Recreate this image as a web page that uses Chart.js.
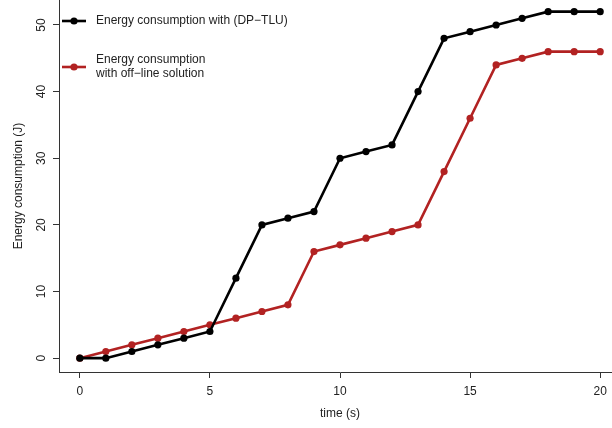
<!DOCTYPE html>
<html>
<head>
<meta charset="utf-8">
<script src="https://cdn.jsdelivr.net/npm/chart.js@4"></script>
<style>
  html, body { margin: 0; padding: 0; background: #fff; overflow: hidden; }
  #wrap { width: 621px; height: 428px; }
</style>
</head>
<body>
<div id="wrap"><canvas id="c" width="621" height="428" style="width:621px;height:428px"></canvas></div>
<script>
const timeValues = [0,1,2,3,4,5,6,7,8,9,10,11,12,13,14,15,16,17,18,19,20];
const dptluEnergy = [0,0,1,2,3,4,12,20,21,22,30,31,32,40,48,49,50,51,52,52,52];
const offlineEnergy = [0,1,2,3,4,5,6,7,8,16,17,18,19,20,28,36,44,45,46,46,46];
const xTickValues = [0,5,10,15,20];
const yTickValues = [0,10,20,30,40,50];
const seriesNames = [["Energy consumption with (DP\u2212TLU)"], ["Energy consumption", "with off\u2212line solution"]];
const seriesColors = ["#000000", "#B22222"];

const FONT = "'Liberation Sans', Arial, Helvetica, sans-serif";
const AXIS_COLOR = "#333333";
const TEXT_COLOR = "#222222";

function pts(ys) { return timeValues.map((x, i) => ({x: x, y: ys[i]})); }

const legendPlugin = {
  id: 'rLegend',
  afterDraw(chart) {
    const ctx = chart.ctx;
    ctx.save();
    ctx.font = "12px " + FONT;
    ctx.textBaseline = 'middle';
    ctx.textAlign = 'left';
    const entries = [{y: 21, lines: seriesNames[0], color: seriesColors[0]},
                     {y: 67, lines: seriesNames[1], color: seriesColors[1]}];
    entries.forEach(e => {
      ctx.strokeStyle = e.color;
      ctx.lineWidth = 2.6;
      ctx.beginPath();
      ctx.moveTo(62, e.y);
      ctx.lineTo(86, e.y);
      ctx.stroke();
      ctx.fillStyle = e.color;
      ctx.beginPath();
      ctx.arc(74, e.y, 3.6, 0, Math.PI * 2);
      ctx.fill();
      ctx.fillStyle = TEXT_COLOR;
      const n = e.lines.length;
      e.lines.forEach((t, i) => {
        ctx.fillText(t, 96, e.y + (i - (n - 1) / 2) * 14);
      });
    });
    ctx.restore();
  }
};

new Chart(document.getElementById('c'), {
  type: 'line',
  data: {
    datasets: [
      {
        label: seriesNames[0].join(' '),
        data: pts(dptluEnergy),
        borderColor: seriesColors[0],
        backgroundColor: seriesColors[0],
        borderWidth: 2.6,
        pointRadius: 3.6,
        pointBorderWidth: 0,
        pointHoverRadius: 3.6,
        tension: 0,
        fill: false,
        clip: false
      },
      {
        label: seriesNames[1].join(' '),
        data: pts(offlineEnergy),
        borderColor: seriesColors[1],
        backgroundColor: seriesColors[1],
        borderWidth: 2.6,
        pointRadius: 3.6,
        pointBorderWidth: 0,
        pointHoverRadius: 3.6,
        tension: 0,
        fill: false,
        clip: false
      }
    ]
  },
  options: {
    responsive: false,
    animation: false,
    devicePixelRatio: 1,
    layout: { padding: 0, autoPadding: false },
    plugins: {
      legend: { display: false },
      tooltip: { enabled: false }
    },
    scales: {
      x: {
        type: 'linear',
        position: 'bottom',
        min: -0.8,
        max: 20.8,
        afterBuildTicks(s) { s.ticks = xTickValues.map(v => ({value: v})); },
        afterFit(s) { s.height = 56; s.paddingLeft = 0; s.paddingRight = 0; s.paddingTop = 0; s.paddingBottom = 0; },
        grid: { display: true, drawOnChartArea: false, drawTicks: true, tickLength: 6, color: AXIS_COLOR, lineWidth: 1 },
        border: { display: true, color: AXIS_COLOR, width: 1 },
        ticks: { color: TEXT_COLOR, font: { family: FONT, size: 12 }, padding: 6, maxRotation: 0, minRotation: 0 },
        title: { display: true, text: 'time (s)', color: TEXT_COLOR, font: { family: FONT, size: 12 }, padding: { top: 0, bottom: 7 } }
      },
      y: {
        type: 'linear',
        position: 'left',
        min: -2.08,
        max: 53.75,
        afterBuildTicks(s) { s.ticks = yTickValues.map(v => ({value: v})); },
        afterFit(s) { s.width = 59; s.paddingLeft = 0; s.paddingRight = 0; s.paddingTop = 0; s.paddingBottom = 0; },
        grid: { display: true, drawOnChartArea: false, drawTicks: true, tickLength: 6, color: AXIS_COLOR, lineWidth: 1 },
        border: { display: true, color: AXIS_COLOR, width: 1 },
        ticks: { color: TEXT_COLOR, font: { family: FONT, size: 12 }, padding: 5, minRotation: 90, maxRotation: 90, crossAlign: 'center' },
        title: { display: true, text: 'Energy consumption (J)', color: TEXT_COLOR, font: { family: FONT, size: 12 }, padding: { top: 11, bottom: 0 } }
      }
    }
  },
  plugins: [legendPlugin]
});
</script>
</body>
</html>
